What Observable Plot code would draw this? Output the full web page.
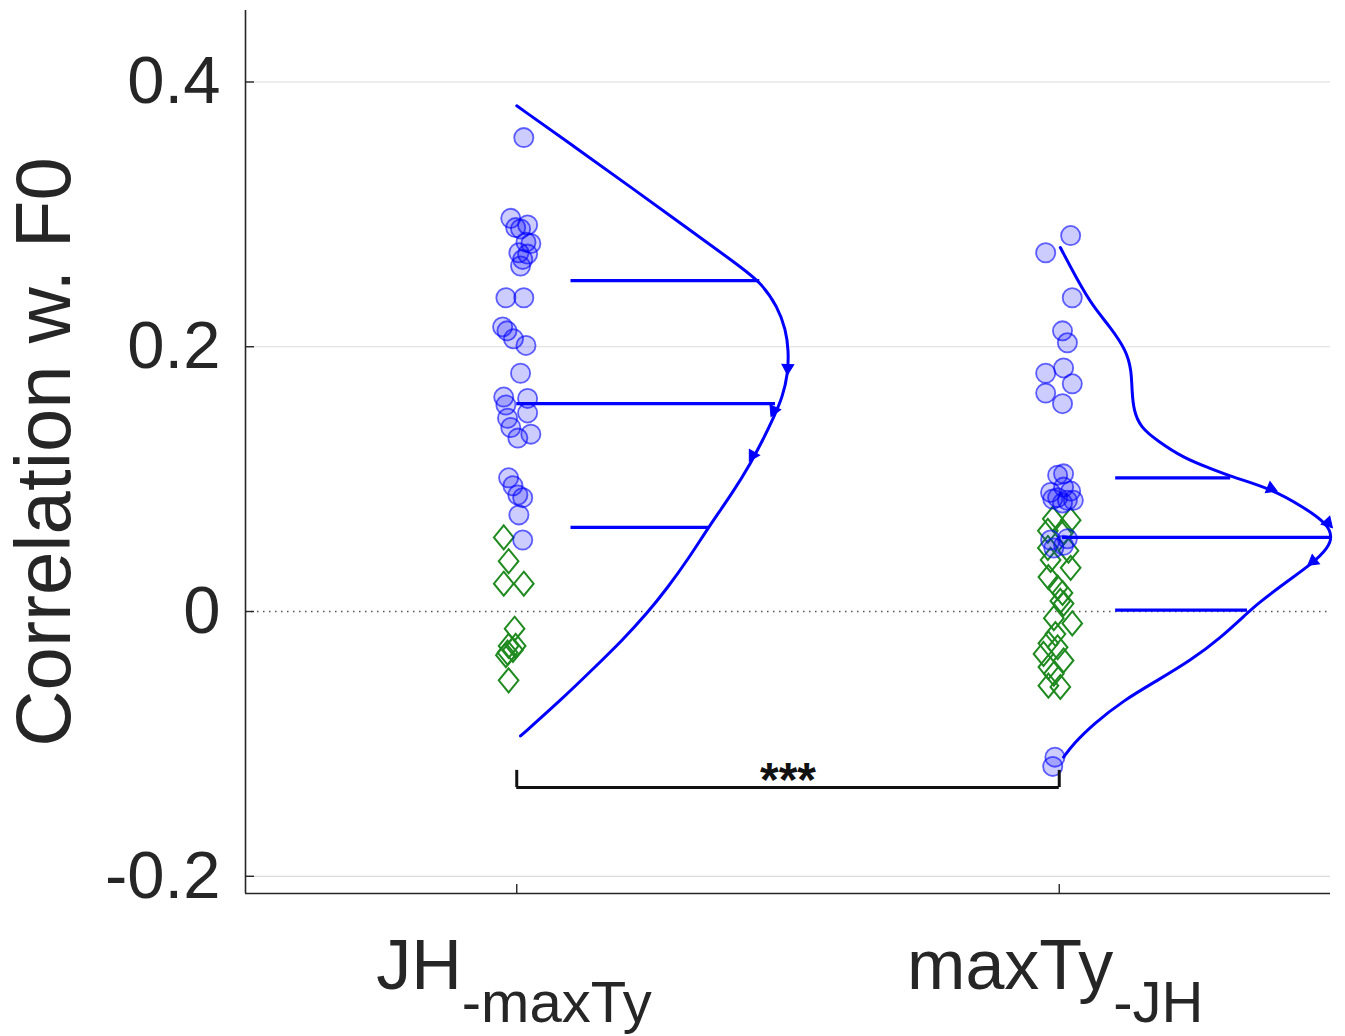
<!DOCTYPE html>
<html><head><meta charset="utf-8">
<script src="https://cdn.jsdelivr.net/npm/d3@7"></script>
<script src="https://cdn.jsdelivr.net/npm/@observablehq/plot@0.6"></script>
<style>body{margin:0;background:#fff}</style>
</head><body><div id="chart"></div>
<script>
// ---------- data ----------
const categories = [1, 2];
const categoryLabels = ["JH", "maxTy"];
const categorySubLabels = ["-maxTy", "-JH"];
const yTicks = [-0.2, 0, 0.2, 0.4];
const yTickLabels = ["-0.2", "0", "0.2", "0.4"];
const yTitle = "Correlation w. F0";
const xDomain = [0.5, 2.5];
const yDomain = [-0.213, 0.454];

// group 1 (JH-maxTy): circles and diamonds
const leftCircleX = [1.013,0.989,0.998,1.020,1.007,1.017,1.026,1.004,1.020,1.011,1.007,0.980,1.013,0.974,0.982,0.994,1.017,1.007,0.976,1.020,0.980,1.020,0.983,0.989,1.002,1.026,0.985,0.993,1.002,1.011,1.004,1.011];
const leftCircleY = [0.358,0.297,0.290,0.292,0.289,0.279,0.278,0.271,0.270,0.266,0.261,0.237,0.237,0.215,0.212,0.206,0.201,0.180,0.162,0.161,0.156,0.150,0.146,0.139,0.131,0.134,0.101,0.095,0.088,0.086,0.073,0.054];
const leftDiamondX = [0.976,0.985,0.976,1.013,0.996,0.985,0.993,0.983,0.998,0.980,0.985];
const leftDiamondY = [0.056,0.038,0.021,0.021,-0.013,-0.026,-0.029,-0.031,-0.026,-0.033,-0.052];

// group 2 (maxTy-JH)
const rightCircleX = [2.021,1.975,2.024,2.006,2.015,1.975,2.008,2.024,1.975,2.006,1.997,2.008,1.984,2.008,2.021,1.997,2.015,2.026,2.006,1.988,1.984,2.015,2.008,1.990,1.992,1.988];
const rightCircleY = [0.284,0.271,0.237,0.212,0.203,0.180,0.184,0.172,0.165,0.157,0.103,0.104,0.090,0.094,0.091,0.086,0.084,0.084,0.082,0.085,0.054,0.055,0.050,0.048,-0.110,-0.117];
const rightDiamondX = [1.988,2.021,1.979,2.008,1.979,2.017,1.984,2.021,1.980,1.997,2.006,2.002,2.008,1.990,2.024,1.993,1.980,1.997,1.971,2.008,1.980,1.990,2.002,1.980];
const rightDiamondY = [0.070,0.069,0.061,0.060,0.048,0.046,0.039,0.033,0.026,0.018,0.014,0.008,0.006,-0.005,-0.009,-0.017,-0.024,-0.027,-0.032,-0.037,-0.042,-0.047,-0.057,-0.056];

// density outlines: value and half-violin width (x units)
const leftCurveY = [0.382,0.350,0.320,0.290,0.265,0.249,0.230,0.213,0.197,0.180,0.162,0.147,0.129,0.112,0.091,0.064,0.039,0.018,-0.001,-0.022,-0.042,-0.067,-0.094];
const leftCurveW = [0.000,0.110,0.212,0.313,0.397,0.450,0.481,0.496,0.501,0.500,0.490,0.474,0.453,0.431,0.400,0.354,0.315,0.278,0.241,0.194,0.144,0.081,0.007];
const rightCurveY = [0.275,0.250,0.230,0.215,0.197,0.182,0.167,0.152,0.139,0.129,0.116,0.108,0.102,0.093,0.079,0.066,0.056,0.048,0.037,0.021,0.006,-0.001,-0.020,-0.037,-0.052,-0.067,-0.085,-0.100,-0.110];
const rightCurveW = [0.002,0.034,0.063,0.094,0.124,0.133,0.134,0.137,0.150,0.181,0.229,0.279,0.316,0.389,0.450,0.495,0.503,0.495,0.469,0.414,0.366,0.347,0.297,0.242,0.181,0.119,0.063,0.026,0.008];

// quartile lines (upper quartile, median, lower quartile)
const leftQuartY = [0.250, 0.157, 0.0635];
const leftQuartStart = [0.100, 0.000, 0.100];
const leftQuartEnd = [0.448, 0.477, 0.354];
const rightQuartY = [0.101, 0.056, 0.001];
const rightQuartStart = [0.104, 0.006, 0.104];
const rightQuartEnd = [0.316, 0.502, 0.347];

// arrow markers on the outlines
const leftArrowY = [0.184, 0.152, 0.118];
const leftArrowW = [0.4995, 0.474, 0.435];
const rightArrowY = [0.093, 0.067, 0.038];
const rightArrowW = [0.390, 0.495, 0.468];

// significance bracket
const bracket = {from: 1, to: 2, y: -0.133, tip: -0.120, labelY: -0.139, label: "***"};

// ---------- tables ----------
const circles = [
  ...leftCircleX.map((x, i) => ({x, y: leftCircleY[i]})),
  ...rightCircleX.map((x, i) => ({x, y: rightCircleY[i]}))
];
const diamonds = [
  ...leftDiamondX.map((x, i) => ({x, y: leftDiamondY[i]})),
  ...rightDiamondX.map((x, i) => ({x, y: rightDiamondY[i]}))
];
const curves = [
  ...leftCurveY.map((y, i) => ({g: 1, x: categories[0] + leftCurveW[i], y})),
  ...rightCurveY.map((y, i) => ({g: 2, x: categories[1] + rightCurveW[i], y}))
];
const quarts = [
  ...leftQuartY.map((y, i) => ({y, x1: categories[0] + leftQuartStart[i], x2: categories[0] + leftQuartEnd[i]})),
  ...rightQuartY.map((y, i) => ({y, x1: categories[1] + rightQuartStart[i], x2: categories[1] + rightQuartEnd[i]}))
];
const arrowRotation = [182, 205, 210, 113, 137, 232];
const arrows = [
  ...leftArrowY.map((y, i) => ({y, x: categories[0] + leftArrowW[i]})),
  ...rightArrowY.map((y, i) => ({y, x: categories[1] + rightArrowW[i]}))
].map((d, i) => ({...d, r: arrowRotation[i]}));

// diamond symbol (a bit narrower than tall)
const diamondSym = {
  draw(ctx, size) {
    const h = Math.sqrt(size / Math.PI), w = h * 0.82;
    ctx.moveTo(0, -h); ctx.lineTo(w, 0); ctx.lineTo(0, h); ctx.lineTo(-w, 0); ctx.closePath();
  }
};

const W = 1345, H = 1036;
const mL = 245, mR = 15, mT = 10, mB = 143;
const plotW = W - mL - mR, plotH = H - mT - mB;
const font = "Liberation Sans, Arial, Helvetica, sans-serif";
const axisColor = "#262626";

const chart = Plot.plot({
  width: W, height: H,
  marginLeft: mL, marginRight: mR, marginTop: mT, marginBottom: mB,
  style: {fontFamily: font, background: "#fff", color: axisColor},
  x: {domain: xDomain, axis: null},
  y: {domain: yDomain, axis: null},
  marks: [
    // grid
    Plot.ruleY(yTicks.filter(d => d !== 0), {stroke: "#dcdcdc", strokeWidth: 1.2}),
    Plot.ruleY([0], {stroke: "#555", strokeWidth: 1.4, strokeDasharray: "1.5,4.5"}),
    // axes lines
    Plot.ruleX([xDomain[0]], {stroke: axisColor, strokeWidth: 1.6}),
    Plot.ruleY([yDomain[0]], {stroke: axisColor, strokeWidth: 1.6}),
    // inward ticks
    Plot.ruleY(yTicks, {stroke: axisColor, strokeWidth: 1.4, insetRight: plotW - 9}),
    Plot.ruleX(categories, {stroke: axisColor, strokeWidth: 1.4, insetTop: plotH - 9}),
    // y tick labels
    Plot.axisY({ticks: yTicks, tickSize: 0, tickPadding: 25, fontSize: 67, label: null,
      tickFormat: d => yTickLabels[yTicks.indexOf(d)], fill: axisColor}),
    // x labels with subscripts
    Plot.text([categories[0]], {x: d => d, text: () => categoryLabels[0], frameAnchor: "bottom", lineAnchor: "bottom", textAnchor: "end", dx: -55, dy: 95, fontSize: 70, fill: axisColor}),
    Plot.text([categories[0]], {x: d => d, text: () => categorySubLabels[0], frameAnchor: "bottom", lineAnchor: "bottom", textAnchor: "start", dx: -55, dy: 128, fontSize: 58, fill: axisColor}),
    Plot.text([categories[1]], {x: d => d, text: () => categoryLabels[1], frameAnchor: "bottom", lineAnchor: "bottom", textAnchor: "end", dx: 54, dy: 95, fontSize: 70, fill: axisColor}),
    Plot.text([categories[1]], {x: d => d, text: () => categorySubLabels[1], frameAnchor: "bottom", lineAnchor: "bottom", textAnchor: "start", dx: 54, dy: 128, fontSize: 58, fill: axisColor}),
    // y title
    Plot.text([yTitle], {text: d => d, frameAnchor: "left", rotate: -90, dx: -200, fontSize: 78, textAnchor: "middle", lineAnchor: "middle", fill: axisColor}),
    // points
    Plot.dot(diamonds, {x: "x", y: "y", symbol: diamondSym, r: 12, stroke: "#1f8a1f", strokeWidth: 2, fill: "none"}),
    Plot.dot(circles, {x: "x", y: "y", r: 9.6, fill: "#0000ff", fillOpacity: 0.2, stroke: "#0000ff", strokeOpacity: 0.6, strokeWidth: 1.8}),
    // density outlines
    Plot.line(curves, {x: "x", y: "y", z: "g", stroke: "#0000ff", strokeWidth: 3, curve: "basis"}),
    Plot.ruleY(quarts, {y: "y", x1: "x1", x2: "x2", stroke: "#0000ff", strokeWidth: 3.2}),
    Plot.dot(arrows, {x: "x", y: "y", symbol: "triangle", r: 4.4, rotate: "r", fill: "#0000ff", stroke: "#0000ff", strokeWidth: 1}),
    // significance bracket
    Plot.ruleY([bracket], {y: "y", x1: "from", x2: "to", stroke: "#111", strokeWidth: 3}),
    Plot.ruleX([bracket.from, bracket.to], {x: d => d, y1: bracket.tip, y2: bracket.y, stroke: "#111", strokeWidth: 3}),
    Plot.text([bracket], {x: d => (d.from + d.to) / 2, y: "labelY", text: "label", fontSize: 48, fontWeight: "bold", lineAnchor: "bottom", textAnchor: "middle", fill: "#111"})
  ]
});
document.getElementById("chart").appendChild(chart);
</script>
</body></html>
